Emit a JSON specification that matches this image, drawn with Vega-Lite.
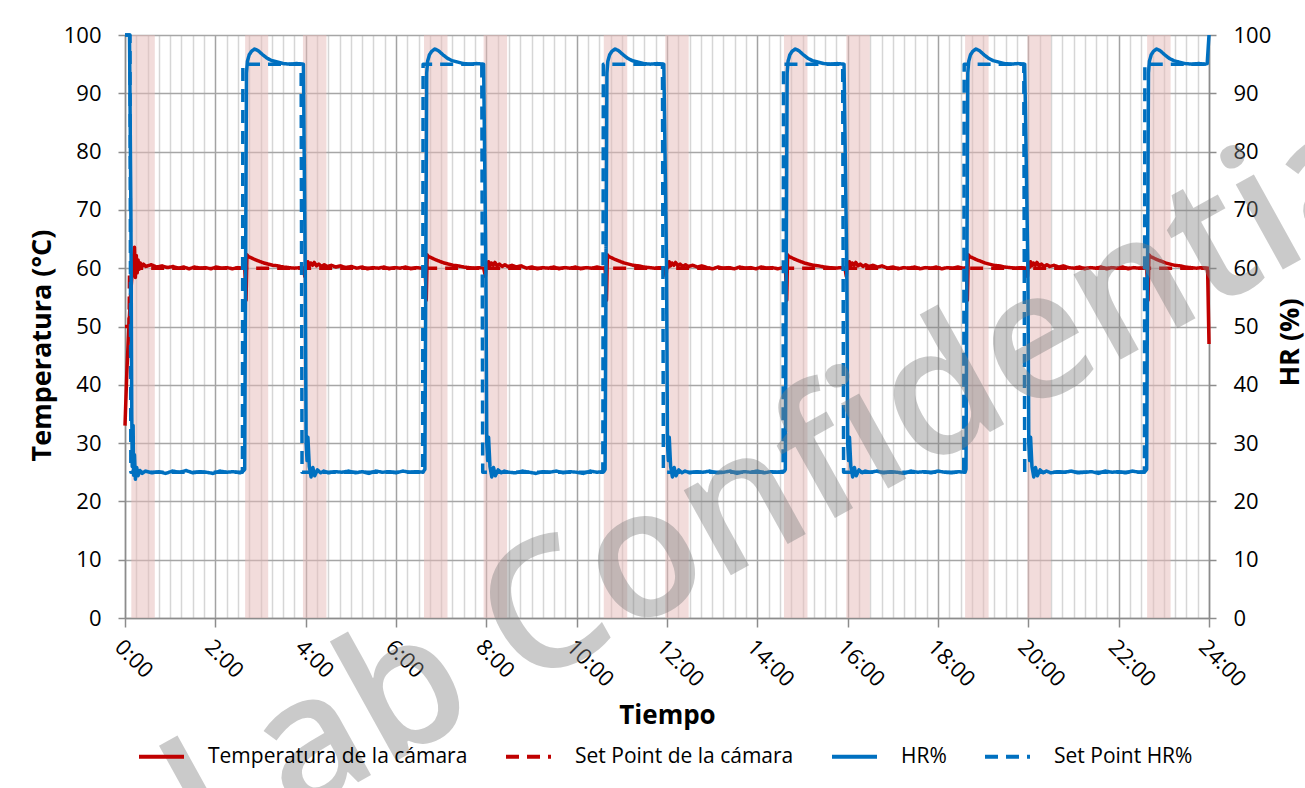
{
"$schema": "https://vega.github.io/schema/vega-lite/v6.json",
"width": 1084, "height": 583,
"autosize": "none",
"padding": {"left": 125, "top": 35, "right": 96, "bottom": 170},
"background": "white",
"config": {"view": {"stroke": null}, "font": "Open Sans"},
"datasets": {
"bands": [{"t":0.14,"t2":0.66},{"t":2.66,"t2":3.17},{"t":3.94,"t2":4.46},{"t":6.62,"t2":7.14},{"t":7.94,"t2":8.46},{"t":10.6,"t2":11.12},{"t":11.96,"t2":12.48},{"t":14.59,"t2":15.11},{"t":15.97,"t2":16.49},{"t":18.6,"t2":19.12},{"t":19.98,"t2":20.5},{"t":22.63,"t2":23.15}],
"series": [
{"t":0,"s":"TS","v":50},{"t":0.09,"s":"TS","v":50},{"t":0.1,"s":"TS","v":60},{"t":24,"s":"TS","v":60},
{"t":0,"s":"HS","v":100},{"t":0.11,"s":"HS","v":100},{"t":0.13,"s":"HS","v":25},{"t":2.6,"s":"HS","v":25},{"t":2.61,"s":"HS","v":95},{"t":3.9,"s":"HS","v":95},{"t":3.92,"s":"HS","v":25},{"t":6.59,"s":"HS","v":25},{"t":6.6,"s":"HS","v":95},{"t":7.9,"s":"HS","v":95},{"t":7.92,"s":"HS","v":25},{"t":10.58,"s":"HS","v":25},{"t":10.59,"s":"HS","v":95},{"t":11.9,"s":"HS","v":95},{"t":11.92,"s":"HS","v":25},{"t":14.57,"s":"HS","v":25},{"t":14.58,"s":"HS","v":95},{"t":15.89,"s":"HS","v":95},{"t":15.91,"s":"HS","v":25},{"t":18.57,"s":"HS","v":25},{"t":18.58,"s":"HS","v":95},{"t":19.9,"s":"HS","v":95},{"t":19.92,"s":"HS","v":25},{"t":22.57,"s":"HS","v":25},{"t":22.58,"s":"HS","v":95},{"t":24,"s":"HS","v":95},

{"t":0,"s":"T","v":33},{"t":0.04,"s":"T","v":42},{"t":0.08,"s":"T","v":49},{"t":0.12,"s":"T","v":55},{"t":0.16,"s":"T","v":59.5},{"t":0.19,"s":"T","v":62},{"t":0.21,"s":"T","v":63.6},{"t":0.23,"s":"T","v":58.4},{"t":0.25,"s":"T","v":62.2},{"t":0.27,"s":"T","v":59.2},{"t":0.29,"s":"T","v":61.4},{"t":0.31,"s":"T","v":59.8},{"t":0.34,"s":"T","v":60.9},{"t":0.37,"s":"T","v":60.2},{"t":0.41,"s":"T","v":60.7},{"t":0.46,"s":"T","v":60.3},{"t":0.58,"s":"T","v":60.6},{"t":0.7,"s":"T","v":60.2},{"t":0.82,"s":"T","v":60.4},{"t":0.94,"s":"T","v":60.1},{"t":1.06,"s":"T","v":60.3},{"t":1.18,"s":"T","v":60.0},{"t":1.3,"s":"T","v":60.2},{"t":1.42,"s":"T","v":59.9},{"t":1.54,"s":"T","v":60.2},{"t":1.66,"s":"T","v":60.0},{"t":1.78,"s":"T","v":60.1},{"t":1.9,"s":"T","v":59.9},{"t":2.02,"s":"T","v":60.2},{"t":2.14,"s":"T","v":60.0},{"t":2.26,"s":"T","v":60.1},{"t":2.38,"s":"T","v":59.9},{"t":2.5,"s":"T","v":60.1},{"t":2.6,"s":"T","v":60.0},
{"t":2.65,"s":"T","v":60.1},{"t":2.67,"s":"T","v":57},{"t":2.68,"s":"T","v":54.5},{"t":2.7,"s":"T","v":62.3},{"t":2.73,"s":"T","v":62.0},{"t":2.79,"s":"T","v":61.8},{"t":2.87,"s":"T","v":61.5},{"t":2.97,"s":"T","v":61.2},{"t":3.07,"s":"T","v":60.9},{"t":3.17,"s":"T","v":60.7},{"t":3.27,"s":"T","v":60.5},{"t":3.39,"s":"T","v":60.4},{"t":3.51,"s":"T","v":60.2},{"t":3.63,"s":"T","v":60.1},{"t":3.75,"s":"T","v":60.0},{"t":3.87,"s":"T","v":60.1},{"t":3.95,"s":"T","v":60.0},
{"t":3.98,"s":"T","v":58.6},{"t":4.0,"s":"T","v":61.0},{"t":4.02,"s":"T","v":60.1},{"t":4.05,"s":"T","v":61.1},{"t":4.08,"s":"T","v":60.4},{"t":4.11,"s":"T","v":60.9},{"t":4.15,"s":"T","v":60.5},{"t":4.19,"s":"T","v":61.0},{"t":4.24,"s":"T","v":60.4},{"t":4.29,"s":"T","v":60.7},{"t":4.35,"s":"T","v":60.3},{"t":4.41,"s":"T","v":60.6},{"t":4.47,"s":"T","v":60.3},{"t":4.57,"s":"T","v":60.5},{"t":4.67,"s":"T","v":60.2},{"t":4.77,"s":"T","v":60.4},
{"t":4.89,"s":"T","v":60.1},{"t":5.01,"s":"T","v":60.3},{"t":5.13,"s":"T","v":60.0},{"t":5.25,"s":"T","v":60.2},{"t":5.37,"s":"T","v":59.9},{"t":5.49,"s":"T","v":60.1},{"t":5.61,"s":"T","v":60.0},{"t":5.73,"s":"T","v":60.2},{"t":5.85,"s":"T","v":59.9},{"t":5.97,"s":"T","v":60.1},{"t":6.09,"s":"T","v":60.0},{"t":6.21,"s":"T","v":60.2},{"t":6.33,"s":"T","v":59.9},{"t":6.45,"s":"T","v":60.1},{"t":6.57,"s":"T","v":60.0},
{"t":6.64,"s":"T","v":60.1},{"t":6.66,"s":"T","v":57},{"t":6.67,"s":"T","v":54.5},{"t":6.69,"s":"T","v":62.3},{"t":6.72,"s":"T","v":62.0},{"t":6.78,"s":"T","v":61.8},{"t":6.86,"s":"T","v":61.5},{"t":6.96,"s":"T","v":61.2},{"t":7.06,"s":"T","v":60.9},{"t":7.16,"s":"T","v":60.7},{"t":7.26,"s":"T","v":60.5},{"t":7.38,"s":"T","v":60.4},{"t":7.5,"s":"T","v":60.2},{"t":7.62,"s":"T","v":60.1},{"t":7.74,"s":"T","v":60.0},{"t":7.86,"s":"T","v":60.1},{"t":7.94,"s":"T","v":60.0},
{"t":7.98,"s":"T","v":58.6},{"t":8.0,"s":"T","v":61.0},{"t":8.02,"s":"T","v":60.1},{"t":8.05,"s":"T","v":61.1},{"t":8.08,"s":"T","v":60.4},{"t":8.11,"s":"T","v":60.9},{"t":8.15,"s":"T","v":60.5},{"t":8.19,"s":"T","v":61.0},{"t":8.24,"s":"T","v":60.4},{"t":8.29,"s":"T","v":60.7},{"t":8.35,"s":"T","v":60.3},{"t":8.41,"s":"T","v":60.6},{"t":8.47,"s":"T","v":60.3},{"t":8.57,"s":"T","v":60.5},{"t":8.67,"s":"T","v":60.2},{"t":8.77,"s":"T","v":60.4},
{"t":8.89,"s":"T","v":60.0},{"t":9.01,"s":"T","v":60.2},{"t":9.13,"s":"T","v":59.9},{"t":9.25,"s":"T","v":60.1},{"t":9.37,"s":"T","v":60.0},{"t":9.49,"s":"T","v":60.2},{"t":9.61,"s":"T","v":59.9},{"t":9.73,"s":"T","v":60.1},{"t":9.85,"s":"T","v":60.0},{"t":9.97,"s":"T","v":60.2},{"t":10.09,"s":"T","v":59.9},{"t":10.21,"s":"T","v":60.1},{"t":10.33,"s":"T","v":60.0},{"t":10.45,"s":"T","v":60.2},{"t":10.57,"s":"T","v":60.0},
{"t":10.63,"s":"T","v":60.1},{"t":10.65,"s":"T","v":57},{"t":10.66,"s":"T","v":54.5},{"t":10.68,"s":"T","v":62.3},{"t":10.71,"s":"T","v":62.0},{"t":10.77,"s":"T","v":61.8},{"t":10.85,"s":"T","v":61.5},{"t":10.95,"s":"T","v":61.2},{"t":11.05,"s":"T","v":60.9},{"t":11.15,"s":"T","v":60.7},{"t":11.25,"s":"T","v":60.5},{"t":11.37,"s":"T","v":60.4},{"t":11.49,"s":"T","v":60.2},{"t":11.61,"s":"T","v":60.1},{"t":11.73,"s":"T","v":60.0},{"t":11.85,"s":"T","v":60.1},{"t":11.95,"s":"T","v":60.0},
{"t":11.98,"s":"T","v":58.6},{"t":12.0,"s":"T","v":61.0},{"t":12.02,"s":"T","v":60.1},{"t":12.05,"s":"T","v":61.1},{"t":12.08,"s":"T","v":60.4},{"t":12.11,"s":"T","v":60.9},{"t":12.15,"s":"T","v":60.5},{"t":12.19,"s":"T","v":61.0},{"t":12.24,"s":"T","v":60.4},{"t":12.29,"s":"T","v":60.7},{"t":12.35,"s":"T","v":60.3},{"t":12.41,"s":"T","v":60.6},{"t":12.47,"s":"T","v":60.3},{"t":12.57,"s":"T","v":60.5},{"t":12.67,"s":"T","v":60.2},{"t":12.77,"s":"T","v":60.4},
{"t":12.89,"s":"T","v":60.1},{"t":13.01,"s":"T","v":59.9},{"t":13.13,"s":"T","v":60.2},{"t":13.25,"s":"T","v":60.0},{"t":13.37,"s":"T","v":60.1},{"t":13.49,"s":"T","v":59.9},{"t":13.61,"s":"T","v":60.2},{"t":13.73,"s":"T","v":60.0},{"t":13.85,"s":"T","v":60.1},{"t":13.97,"s":"T","v":59.9},{"t":14.09,"s":"T","v":60.2},{"t":14.21,"s":"T","v":60.0},{"t":14.33,"s":"T","v":60.1},{"t":14.45,"s":"T","v":59.9},{"t":14.56,"s":"T","v":60.1},
{"t":14.62,"s":"T","v":60.1},{"t":14.64,"s":"T","v":57},{"t":14.65,"s":"T","v":54.5},{"t":14.67,"s":"T","v":62.3},{"t":14.7,"s":"T","v":62.0},{"t":14.76,"s":"T","v":61.8},{"t":14.84,"s":"T","v":61.5},{"t":14.94,"s":"T","v":61.2},{"t":15.04,"s":"T","v":60.9},{"t":15.14,"s":"T","v":60.7},{"t":15.24,"s":"T","v":60.5},{"t":15.36,"s":"T","v":60.4},{"t":15.48,"s":"T","v":60.2},{"t":15.6,"s":"T","v":60.1},{"t":15.72,"s":"T","v":60.0},{"t":15.84,"s":"T","v":60.1},{"t":15.94,"s":"T","v":60.0},
{"t":15.97,"s":"T","v":58.6},{"t":15.99,"s":"T","v":61.0},{"t":16.01,"s":"T","v":60.1},{"t":16.04,"s":"T","v":61.1},{"t":16.07,"s":"T","v":60.4},{"t":16.1,"s":"T","v":60.9},{"t":16.14,"s":"T","v":60.5},{"t":16.18,"s":"T","v":61.0},{"t":16.23,"s":"T","v":60.4},{"t":16.28,"s":"T","v":60.7},{"t":16.34,"s":"T","v":60.3},{"t":16.4,"s":"T","v":60.6},{"t":16.46,"s":"T","v":60.3},{"t":16.56,"s":"T","v":60.5},{"t":16.66,"s":"T","v":60.2},{"t":16.76,"s":"T","v":60.4},
{"t":16.88,"s":"T","v":60.0},{"t":17.0,"s":"T","v":60.2},{"t":17.12,"s":"T","v":59.9},{"t":17.24,"s":"T","v":60.1},{"t":17.36,"s":"T","v":60.0},{"t":17.48,"s":"T","v":60.2},{"t":17.6,"s":"T","v":59.9},{"t":17.72,"s":"T","v":60.1},{"t":17.84,"s":"T","v":60.0},{"t":17.96,"s":"T","v":60.2},{"t":18.08,"s":"T","v":59.9},{"t":18.2,"s":"T","v":60.1},{"t":18.32,"s":"T","v":60.0},{"t":18.44,"s":"T","v":60.2},{"t":18.56,"s":"T","v":60.0},
{"t":18.62,"s":"T","v":60.1},{"t":18.64,"s":"T","v":57},{"t":18.65,"s":"T","v":54.5},{"t":18.67,"s":"T","v":62.3},{"t":18.7,"s":"T","v":62.0},{"t":18.76,"s":"T","v":61.8},{"t":18.84,"s":"T","v":61.5},{"t":18.94,"s":"T","v":61.2},{"t":19.04,"s":"T","v":60.9},{"t":19.14,"s":"T","v":60.7},{"t":19.24,"s":"T","v":60.5},{"t":19.36,"s":"T","v":60.4},{"t":19.48,"s":"T","v":60.2},{"t":19.6,"s":"T","v":60.1},{"t":19.72,"s":"T","v":60.0},{"t":19.84,"s":"T","v":60.1},{"t":19.95,"s":"T","v":60.0},
{"t":19.98,"s":"T","v":58.6},{"t":20.0,"s":"T","v":61.0},{"t":20.02,"s":"T","v":60.1},{"t":20.05,"s":"T","v":61.1},{"t":20.08,"s":"T","v":60.4},{"t":20.11,"s":"T","v":60.9},{"t":20.15,"s":"T","v":60.5},{"t":20.19,"s":"T","v":61.0},{"t":20.24,"s":"T","v":60.4},{"t":20.29,"s":"T","v":60.7},{"t":20.35,"s":"T","v":60.3},{"t":20.41,"s":"T","v":60.6},{"t":20.47,"s":"T","v":60.3},{"t":20.57,"s":"T","v":60.5},{"t":20.67,"s":"T","v":60.2},{"t":20.77,"s":"T","v":60.4},
{"t":20.89,"s":"T","v":60.1},{"t":21.01,"s":"T","v":60.0},{"t":21.13,"s":"T","v":60.2},{"t":21.25,"s":"T","v":59.9},{"t":21.37,"s":"T","v":60.1},{"t":21.49,"s":"T","v":60.0},{"t":21.61,"s":"T","v":60.2},{"t":21.73,"s":"T","v":59.9},{"t":21.85,"s":"T","v":60.1},{"t":21.97,"s":"T","v":60.0},{"t":22.09,"s":"T","v":60.2},{"t":22.21,"s":"T","v":59.9},{"t":22.33,"s":"T","v":60.1},{"t":22.45,"s":"T","v":60.0},{"t":22.56,"s":"T","v":60.1},
{"t":22.62,"s":"T","v":60.1},{"t":22.64,"s":"T","v":57},{"t":22.65,"s":"T","v":54.5},{"t":22.67,"s":"T","v":62.3},{"t":22.7,"s":"T","v":62.0},{"t":22.76,"s":"T","v":61.8},{"t":22.84,"s":"T","v":61.5},{"t":22.94,"s":"T","v":61.2},{"t":23.04,"s":"T","v":60.9},{"t":23.14,"s":"T","v":60.7},{"t":23.24,"s":"T","v":60.5},{"t":23.36,"s":"T","v":60.4},{"t":23.48,"s":"T","v":60.2},{"t":23.6,"s":"T","v":60.1},{"t":23.72,"s":"T","v":60.0},{"t":23.84,"s":"T","v":60.1},{"t":23.95,"s":"T","v":60.0},{"t":23.97,"s":"T","v":59.5},{"t":24.0,"s":"T","v":47},

{"t":0,"s":"H","v":100},{"t":0.1,"s":"H","v":100},{"t":0.13,"s":"H","v":70},{"t":0.15,"s":"H","v":35},{"t":0.16,"s":"H","v":26},{"t":0.18,"s":"H","v":33},{"t":0.19,"s":"H","v":24.5},{"t":0.21,"s":"H","v":28},{"t":0.23,"s":"H","v":23.8},{"t":0.26,"s":"H","v":25.8},{"t":0.29,"s":"H","v":24.4},{"t":0.33,"s":"H","v":25.3},{"t":0.38,"s":"H","v":24.8},
{"t":0.45,"s":"H","v":25.2},{"t":0.6,"s":"H","v":24.9},{"t":0.75,"s":"H","v":25.1},{"t":0.9,"s":"H","v":24.8},{"t":1.05,"s":"H","v":25.2},{"t":1.2,"s":"H","v":25.0},{"t":1.35,"s":"H","v":25.3},{"t":1.5,"s":"H","v":24.9},{"t":1.65,"s":"H","v":25.1},{"t":1.8,"s":"H","v":25.0},{"t":1.95,"s":"H","v":24.8},{"t":2.1,"s":"H","v":25.2},{"t":2.25,"s":"H","v":25.0},{"t":2.4,"s":"H","v":25.1},{"t":2.55,"s":"H","v":24.9},{"t":2.63,"s":"H","v":25.3},
{"t":2.65,"s":"H","v":25.5},{"t":2.67,"s":"H","v":60},{"t":2.69,"s":"H","v":93.5},{"t":2.71,"s":"H","v":95.5},{"t":2.75,"s":"H","v":96.6},{"t":2.8,"s":"H","v":97.2},{"t":2.87,"s":"H","v":97.6},{"t":2.95,"s":"H","v":97.3},{"t":3.05,"s":"H","v":96.6},{"t":3.15,"s":"H","v":96.0},{"t":3.25,"s":"H","v":95.6},{"t":3.35,"s":"H","v":95.4},{"t":3.5,"s":"H","v":95.1},{"t":3.65,"s":"H","v":95.0},{"t":3.8,"s":"H","v":95.1},{"t":3.95,"s":"H","v":95.0},
{"t":3.99,"s":"H","v":60},{"t":4.01,"s":"H","v":30},{"t":4.03,"s":"H","v":27},{"t":4.05,"s":"H","v":31},{"t":4.08,"s":"H","v":26},{"t":4.12,"s":"H","v":24.2},{"t":4.16,"s":"H","v":25.8},{"t":4.2,"s":"H","v":24.4},{"t":4.26,"s":"H","v":25.4},{"t":4.33,"s":"H","v":24.9},{"t":4.4,"s":"H","v":25.2},
{"t":4.5,"s":"H","v":24.9},{"t":4.65,"s":"H","v":25.1},{"t":4.8,"s":"H","v":25.0},{"t":4.95,"s":"H","v":25.2},{"t":5.1,"s":"H","v":24.9},{"t":5.25,"s":"H","v":25.1},{"t":5.4,"s":"H","v":24.8},{"t":5.55,"s":"H","v":25.2},{"t":5.7,"s":"H","v":25.0},{"t":5.85,"s":"H","v":25.1},{"t":6.0,"s":"H","v":24.9},{"t":6.15,"s":"H","v":25.2},{"t":6.3,"s":"H","v":25.0},{"t":6.45,"s":"H","v":25.1},{"t":6.6,"s":"H","v":25.0},{"t":6.62,"s":"H","v":25.3},
{"t":6.64,"s":"H","v":25.5},{"t":6.66,"s":"H","v":60},{"t":6.68,"s":"H","v":93.5},{"t":6.7,"s":"H","v":95.5},{"t":6.74,"s":"H","v":96.6},{"t":6.79,"s":"H","v":97.2},{"t":6.86,"s":"H","v":97.6},{"t":6.94,"s":"H","v":97.3},{"t":7.04,"s":"H","v":96.6},{"t":7.14,"s":"H","v":96.0},{"t":7.24,"s":"H","v":95.6},{"t":7.34,"s":"H","v":95.4},{"t":7.49,"s":"H","v":95.1},{"t":7.64,"s":"H","v":95.0},{"t":7.79,"s":"H","v":95.1},{"t":7.94,"s":"H","v":95.0},
{"t":7.99,"s":"H","v":60},{"t":8.01,"s":"H","v":30},{"t":8.03,"s":"H","v":27},{"t":8.05,"s":"H","v":31},{"t":8.08,"s":"H","v":26},{"t":8.12,"s":"H","v":24.2},{"t":8.16,"s":"H","v":25.8},{"t":8.2,"s":"H","v":24.4},{"t":8.26,"s":"H","v":25.4},{"t":8.33,"s":"H","v":24.9},{"t":8.4,"s":"H","v":25.2},
{"t":8.5,"s":"H","v":25.0},{"t":8.65,"s":"H","v":24.9},{"t":8.8,"s":"H","v":25.2},{"t":8.95,"s":"H","v":25.0},{"t":9.1,"s":"H","v":24.8},{"t":9.25,"s":"H","v":25.1},{"t":9.4,"s":"H","v":25.0},{"t":9.55,"s":"H","v":25.2},{"t":9.7,"s":"H","v":24.9},{"t":9.85,"s":"H","v":25.1},{"t":10.0,"s":"H","v":25.0},{"t":10.15,"s":"H","v":24.8},{"t":10.3,"s":"H","v":25.2},{"t":10.45,"s":"H","v":25.0},{"t":10.6,"s":"H","v":25.1},
{"t":10.63,"s":"H","v":25.5},{"t":10.65,"s":"H","v":60},{"t":10.67,"s":"H","v":93.5},{"t":10.69,"s":"H","v":95.5},{"t":10.73,"s":"H","v":96.6},{"t":10.78,"s":"H","v":97.2},{"t":10.85,"s":"H","v":97.6},{"t":10.93,"s":"H","v":97.3},{"t":11.03,"s":"H","v":96.6},{"t":11.13,"s":"H","v":96.0},{"t":11.23,"s":"H","v":95.6},{"t":11.33,"s":"H","v":95.4},{"t":11.48,"s":"H","v":95.1},{"t":11.63,"s":"H","v":95.0},{"t":11.78,"s":"H","v":95.1},{"t":11.93,"s":"H","v":95.0},
{"t":11.99,"s":"H","v":60},{"t":12.01,"s":"H","v":30},{"t":12.03,"s":"H","v":27},{"t":12.05,"s":"H","v":31},{"t":12.08,"s":"H","v":26},{"t":12.12,"s":"H","v":24.2},{"t":12.16,"s":"H","v":25.8},{"t":12.2,"s":"H","v":24.4},{"t":12.26,"s":"H","v":25.4},{"t":12.33,"s":"H","v":24.9},{"t":12.4,"s":"H","v":25.2},
{"t":12.5,"s":"H","v":24.9},{"t":12.65,"s":"H","v":25.1},{"t":12.8,"s":"H","v":25.0},{"t":12.95,"s":"H","v":25.2},{"t":13.1,"s":"H","v":24.9},{"t":13.25,"s":"H","v":25.0},{"t":13.4,"s":"H","v":25.2},{"t":13.55,"s":"H","v":24.8},{"t":13.7,"s":"H","v":25.1},{"t":13.85,"s":"H","v":25.0},{"t":14.0,"s":"H","v":25.2},{"t":14.15,"s":"H","v":24.9},{"t":14.3,"s":"H","v":25.1},{"t":14.45,"s":"H","v":25.0},{"t":14.6,"s":"H","v":25.2},
{"t":14.62,"s":"H","v":25.5},{"t":14.64,"s":"H","v":60},{"t":14.66,"s":"H","v":93.5},{"t":14.68,"s":"H","v":95.5},{"t":14.72,"s":"H","v":96.6},{"t":14.77,"s":"H","v":97.2},{"t":14.84,"s":"H","v":97.6},{"t":14.92,"s":"H","v":97.3},{"t":15.02,"s":"H","v":96.6},{"t":15.12,"s":"H","v":96.0},{"t":15.22,"s":"H","v":95.6},{"t":15.32,"s":"H","v":95.4},{"t":15.47,"s":"H","v":95.1},{"t":15.62,"s":"H","v":95.0},{"t":15.77,"s":"H","v":95.1},{"t":15.92,"s":"H","v":95.0},
{"t":15.98,"s":"H","v":60},{"t":16.0,"s":"H","v":30},{"t":16.02,"s":"H","v":27},{"t":16.04,"s":"H","v":31},{"t":16.07,"s":"H","v":26},{"t":16.11,"s":"H","v":24.2},{"t":16.15,"s":"H","v":25.8},{"t":16.19,"s":"H","v":24.4},{"t":16.25,"s":"H","v":25.4},{"t":16.32,"s":"H","v":24.9},{"t":16.39,"s":"H","v":25.2},
{"t":16.5,"s":"H","v":25.0},{"t":16.65,"s":"H","v":25.2},{"t":16.8,"s":"H","v":24.9},{"t":16.95,"s":"H","v":25.1},{"t":17.1,"s":"H","v":25.0},{"t":17.25,"s":"H","v":24.8},{"t":17.4,"s":"H","v":25.2},{"t":17.55,"s":"H","v":25.0},{"t":17.7,"s":"H","v":25.1},{"t":17.85,"s":"H","v":24.9},{"t":18.0,"s":"H","v":25.2},{"t":18.15,"s":"H","v":25.0},{"t":18.3,"s":"H","v":24.9},{"t":18.45,"s":"H","v":25.1},{"t":18.6,"s":"H","v":25.0},
{"t":18.62,"s":"H","v":25.5},{"t":18.64,"s":"H","v":60},{"t":18.66,"s":"H","v":93.5},{"t":18.68,"s":"H","v":95.5},{"t":18.72,"s":"H","v":96.6},{"t":18.77,"s":"H","v":97.2},{"t":18.84,"s":"H","v":97.6},{"t":18.92,"s":"H","v":97.3},{"t":19.02,"s":"H","v":96.6},{"t":19.12,"s":"H","v":96.0},{"t":19.22,"s":"H","v":95.6},{"t":19.32,"s":"H","v":95.4},{"t":19.47,"s":"H","v":95.1},{"t":19.62,"s":"H","v":95.0},{"t":19.77,"s":"H","v":95.1},{"t":19.92,"s":"H","v":95.0},
{"t":19.99,"s":"H","v":60},{"t":20.01,"s":"H","v":30},{"t":20.03,"s":"H","v":27},{"t":20.05,"s":"H","v":31},{"t":20.08,"s":"H","v":26},{"t":20.12,"s":"H","v":24.2},{"t":20.16,"s":"H","v":25.8},{"t":20.2,"s":"H","v":24.4},{"t":20.26,"s":"H","v":25.4},{"t":20.33,"s":"H","v":24.9},{"t":20.4,"s":"H","v":25.2},
{"t":20.5,"s":"H","v":24.9},{"t":20.65,"s":"H","v":25.1},{"t":20.8,"s":"H","v":25.0},{"t":20.95,"s":"H","v":25.2},{"t":21.1,"s":"H","v":24.9},{"t":21.25,"s":"H","v":25.0},{"t":21.4,"s":"H","v":25.1},{"t":21.55,"s":"H","v":24.8},{"t":21.7,"s":"H","v":25.2},{"t":21.85,"s":"H","v":25.0},{"t":22.0,"s":"H","v":25.1},{"t":22.15,"s":"H","v":24.9},{"t":22.3,"s":"H","v":25.2},{"t":22.45,"s":"H","v":25.0},{"t":22.58,"s":"H","v":25.1},
{"t":22.62,"s":"H","v":25.5},{"t":22.64,"s":"H","v":60},{"t":22.66,"s":"H","v":93.5},{"t":22.68,"s":"H","v":95.5},{"t":22.72,"s":"H","v":96.6},{"t":22.77,"s":"H","v":97.2},{"t":22.84,"s":"H","v":97.6},{"t":22.92,"s":"H","v":97.3},{"t":23.02,"s":"H","v":96.6},{"t":23.12,"s":"H","v":96.0},{"t":23.22,"s":"H","v":95.6},{"t":23.32,"s":"H","v":95.4},{"t":23.47,"s":"H","v":95.1},{"t":23.62,"s":"H","v":95.0},{"t":23.77,"s":"H","v":95.1},{"t":23.92,"s":"H","v":95.0},{"t":23.96,"s":"H","v":95.1},{"t":24.0,"s":"H","v":100}
]
},
"layer": [
{"data": {"name": "bands"},
 "mark": {"type": "rect", "fill": "#E6B9B8", "opacity": 0.5},
 "encoding": {
  "x": {"field": "t", "type": "quantitative",
   "scale": {"domain": [0, 24], "nice": false, "zero": false},
   "axis": {
    "values": [0,0.25,0.5,0.75,1,1.25,1.5,1.75,2,2.25,2.5,2.75,3,3.25,3.5,3.75,4,4.25,4.5,4.75,5,5.25,5.5,5.75,6,6.25,6.5,6.75,7,7.25,7.5,7.75,8,8.25,8.5,8.75,9,9.25,9.5,9.75,10,10.25,10.5,10.75,11,11.25,11.5,11.75,12,12.25,12.5,12.75,13,13.25,13.5,13.75,14,14.25,14.5,14.75,15,15.25,15.5,15.75,16,16.25,16.5,16.75,17,17.25,17.5,17.75,18,18.25,18.5,18.75,19,19.25,19.5,19.75,20,20.25,20.5,20.75,21,21.25,21.5,21.75,22,22.25,22.5,22.75,23,23.25,23.5,23.75,24],
    "labelExpr": "datum.value % 2 === 0 ? datum.value + ':00' : ''",
    "labelAngle": 45, "labelAlign": "left", "labelBaseline": "top", "labelPadding": 9,
    "labelFont": "Open Sans", "labelFontSize": 22, "labelColor": "black",
    "labelOverlap": false, "labelBound": false, "labelFlush": false,
    "grid": true,
    "gridColor": {"condition": {"test": "datum.value % 2 === 0", "value": "#a3a3a3"}, "value": "#d6d6d6"},
    "gridWidth": 1.5,
    "tickColor": {"condition": {"test": "datum.value % 2 === 0", "value": "#8c8c8c"}, "value": "transparent"},
    "tickSize": 9, "tickWidth": 1.5,
    "domainColor": "#8c8c8c", "domainWidth": 1.5,
    "title": "Tiempo", "titleFont": "Open Sans", "titleFontWeight": "bold", "titleFontSize": 26, "titleColor": "black",
    "titleBaseline": "middle", "titleY": 97
   }},
  "x2": {"field": "t2"}
 }},
{"data": {"name": "series"},
 "transform": [{"filter": "datum.s === 'T' || datum.s === 'TS'"}],
 "mark": {"type": "line", "strokeWidth": 3.5, "strokeJoin": "round"},
 "encoding": {
  "x": {"field": "t", "type": "quantitative",
   "scale": {"domain": [0, 24], "nice": false, "zero": false},
   "axis": {
    "values": [0,0.25,0.5,0.75,1,1.25,1.5,1.75,2,2.25,2.5,2.75,3,3.25,3.5,3.75,4,4.25,4.5,4.75,5,5.25,5.5,5.75,6,6.25,6.5,6.75,7,7.25,7.5,7.75,8,8.25,8.5,8.75,9,9.25,9.5,9.75,10,10.25,10.5,10.75,11,11.25,11.5,11.75,12,12.25,12.5,12.75,13,13.25,13.5,13.75,14,14.25,14.5,14.75,15,15.25,15.5,15.75,16,16.25,16.5,16.75,17,17.25,17.5,17.75,18,18.25,18.5,18.75,19,19.25,19.5,19.75,20,20.25,20.5,20.75,21,21.25,21.5,21.75,22,22.25,22.5,22.75,23,23.25,23.5,23.75,24],
    "labelExpr": "datum.value % 2 === 0 ? datum.value + ':00' : ''",
    "labelAngle": 45, "labelAlign": "left", "labelBaseline": "top", "labelPadding": 9,
    "labelFont": "Open Sans", "labelFontSize": 22, "labelColor": "black",
    "labelOverlap": false, "labelBound": false, "labelFlush": false,
    "grid": true,
    "gridColor": {"condition": {"test": "datum.value % 2 === 0", "value": "#a3a3a3"}, "value": "#d6d6d6"},
    "gridWidth": 1.5,
    "tickColor": {"condition": {"test": "datum.value % 2 === 0", "value": "#8c8c8c"}, "value": "transparent"},
    "tickSize": 9, "tickWidth": 1.5,
    "domainColor": "#8c8c8c", "domainWidth": 1.5,
    "title": "Tiempo", "titleFont": "Open Sans", "titleFontWeight": "bold", "titleFontSize": 26, "titleColor": "black",
    "titleBaseline": "middle", "titleY": 97
   }},
  "y": {"field": "v", "type": "quantitative", "scale": {"domain": [0, 100], "nice": false},
   "axis": {"orient": "left", "values": [0,10,20,30,40,50,60,70,80,90,100], "grid": true, "gridColor": "#a6a6a6", "gridWidth": 1.5,
    "tickSize": 7, "tickColor": "#8c8c8c", "tickWidth": 1.5, "domainColor": "#8c8c8c", "domainWidth": 1.5,
    "labelFont": "Open Sans", "labelFontSize": 22, "labelColor": "black", "labelPadding": 17,
    "title": "Temperatura (°C)", "titleFont": "Open Sans", "titleFontWeight": "bold", "titleFontSize": 27, "titleColor": "black",
    "titleAngle": 270, "titleAlign": "center", "titleBaseline": "middle", "titleX": -83, "titleY": 310}},
  "color": {"field": "s", "type": "nominal",
   "scale": {"domain": ["T", "TS", "H", "HS"], "range": ["#C00000", "#C00000", "#0070C0", "#0070C0"]},
   "legend": {"orient": "none", "legendX": 12, "legendY": 697, "direction": "horizontal", "columns": 4, "columnPadding": 30,
    "symbolType": "stroke", "symbolSize": 2025, "symbolStrokeWidth": 4, "labelOffset": 22, "padding": 0,
    "labelFont": "Open Sans", "labelFontSize": 21, "labelColor": "black", "labelLimit": 400, "title": null,
    "labelExpr": "datum.label === 'T' ? 'Temperatura de la cámara' : datum.label === 'TS' ? 'Set Point de la cámara' : datum.label === 'H' ? 'HR%' : 'Set Point HR%'"}},
  "strokeDash": {"field": "s", "type": "nominal",
   "scale": {"domain": ["T", "TS", "H", "HS"], "range": [[1, 0], [13, 8], [1, 0], [13, 8]]},
   "legend": {"orient": "none", "legendX": 12, "legendY": 697, "direction": "horizontal", "columns": 4, "columnPadding": 30,
    "symbolType": "stroke", "symbolSize": 2025, "symbolStrokeWidth": 4, "labelOffset": 22, "padding": 0,
    "labelFont": "Open Sans", "labelFontSize": 21, "labelColor": "black", "labelLimit": 400, "title": null,
    "labelExpr": "datum.label === 'T' ? 'Temperatura de la cámara' : datum.label === 'TS' ? 'Set Point de la cámara' : datum.label === 'H' ? 'HR%' : 'Set Point HR%'"}}
 }},
{"data": {"name": "series"},
 "transform": [{"filter": "datum.s === 'H' || datum.s === 'HS'"}],
 "mark": {"type": "line", "strokeWidth": 3.5, "strokeJoin": "round"},
 "encoding": {
  "x": {"field": "t", "type": "quantitative",
   "scale": {"domain": [0, 24], "nice": false, "zero": false},
   "axis": {
    "values": [0,0.25,0.5,0.75,1,1.25,1.5,1.75,2,2.25,2.5,2.75,3,3.25,3.5,3.75,4,4.25,4.5,4.75,5,5.25,5.5,5.75,6,6.25,6.5,6.75,7,7.25,7.5,7.75,8,8.25,8.5,8.75,9,9.25,9.5,9.75,10,10.25,10.5,10.75,11,11.25,11.5,11.75,12,12.25,12.5,12.75,13,13.25,13.5,13.75,14,14.25,14.5,14.75,15,15.25,15.5,15.75,16,16.25,16.5,16.75,17,17.25,17.5,17.75,18,18.25,18.5,18.75,19,19.25,19.5,19.75,20,20.25,20.5,20.75,21,21.25,21.5,21.75,22,22.25,22.5,22.75,23,23.25,23.5,23.75,24],
    "labelExpr": "datum.value % 2 === 0 ? datum.value + ':00' : ''",
    "labelAngle": 45, "labelAlign": "left", "labelBaseline": "top", "labelPadding": 9,
    "labelFont": "Open Sans", "labelFontSize": 22, "labelColor": "black",
    "labelOverlap": false, "labelBound": false, "labelFlush": false,
    "grid": true,
    "gridColor": {"condition": {"test": "datum.value % 2 === 0", "value": "#a3a3a3"}, "value": "#d6d6d6"},
    "gridWidth": 1.5,
    "tickColor": {"condition": {"test": "datum.value % 2 === 0", "value": "#8c8c8c"}, "value": "transparent"},
    "tickSize": 9, "tickWidth": 1.5,
    "domainColor": "#8c8c8c", "domainWidth": 1.5,
    "title": "Tiempo", "titleFont": "Open Sans", "titleFontWeight": "bold", "titleFontSize": 26, "titleColor": "black",
    "titleBaseline": "middle", "titleY": 97
   }},
  "y": {"field": "v", "type": "quantitative", "scale": {"domain": [0, 100], "nice": false},
   "axis": {"orient": "right", "values": [0,10,20,30,40,50,60,70,80,90,100], "grid": false,
    "tickSize": 7, "tickColor": "#8c8c8c", "tickWidth": 1.5, "domainColor": "#8c8c8c", "domainWidth": 1.5,
    "labelFont": "Open Sans", "labelFontSize": 22, "labelColor": "black", "labelPadding": 17,
    "title": "HR (%)", "titleFont": "Open Sans", "titleFontWeight": "bold", "titleFontSize": 27, "titleColor": "black",
    "titleAngle": 270, "titleAlign": "center", "titleBaseline": "middle", "titleX": 81, "titleY": 307}},
  "color": {"field": "s", "type": "nominal",
   "scale": {"domain": ["T", "TS", "H", "HS"], "range": ["#C00000", "#C00000", "#0070C0", "#0070C0"]}},
  "strokeDash": {"field": "s", "type": "nominal",
   "scale": {"domain": ["T", "TS", "H", "HS"], "range": [[1, 0], [13, 8], [1, 0], [13, 8]]}}
 }},
{"data": {"values": [{"w": "Lab Confidential"}]},
 "mark": {"type": "text", "font": "Open Sans", "fontSize": 180, "fontWeight": 600, "angle": 331, "fill": "#808080", "fillOpacity": 0.42, "align": "center", "baseline": "middle"},
 "encoding": {
  "x": {"datum": 14.98, "type": "quantitative",
   "scale": {"domain": [0, 24], "nice": false, "zero": false},
   "axis": {
    "values": [0,0.25,0.5,0.75,1,1.25,1.5,1.75,2,2.25,2.5,2.75,3,3.25,3.5,3.75,4,4.25,4.5,4.75,5,5.25,5.5,5.75,6,6.25,6.5,6.75,7,7.25,7.5,7.75,8,8.25,8.5,8.75,9,9.25,9.5,9.75,10,10.25,10.5,10.75,11,11.25,11.5,11.75,12,12.25,12.5,12.75,13,13.25,13.5,13.75,14,14.25,14.5,14.75,15,15.25,15.5,15.75,16,16.25,16.5,16.75,17,17.25,17.5,17.75,18,18.25,18.5,18.75,19,19.25,19.5,19.75,20,20.25,20.5,20.75,21,21.25,21.5,21.75,22,22.25,22.5,22.75,23,23.25,23.5,23.75,24],
    "labelExpr": "datum.value % 2 === 0 ? datum.value + ':00' : ''",
    "labelAngle": 45, "labelAlign": "left", "labelBaseline": "top", "labelPadding": 9,
    "labelFont": "Open Sans", "labelFontSize": 22, "labelColor": "black",
    "labelOverlap": false, "labelBound": false, "labelFlush": false,
    "grid": true,
    "gridColor": {"condition": {"test": "datum.value % 2 === 0", "value": "#a3a3a3"}, "value": "#d6d6d6"},
    "gridWidth": 1.5,
    "tickColor": {"condition": {"test": "datum.value % 2 === 0", "value": "#8c8c8c"}, "value": "transparent"},
    "tickSize": 9, "tickWidth": 1.5,
    "domainColor": "#8c8c8c", "domainWidth": 1.5,
    "title": "Tiempo", "titleFont": "Open Sans", "titleFontWeight": "bold", "titleFontSize": 26, "titleColor": "black",
    "titleBaseline": "middle", "titleY": 97
   }},
  "y": {"datum": 24.6, "type": "quantitative", "axis": null},
  "text": {"field": "w", "type": "nominal"}
 }}
],
"resolve": {"axis": {"y": "independent"}}
}
